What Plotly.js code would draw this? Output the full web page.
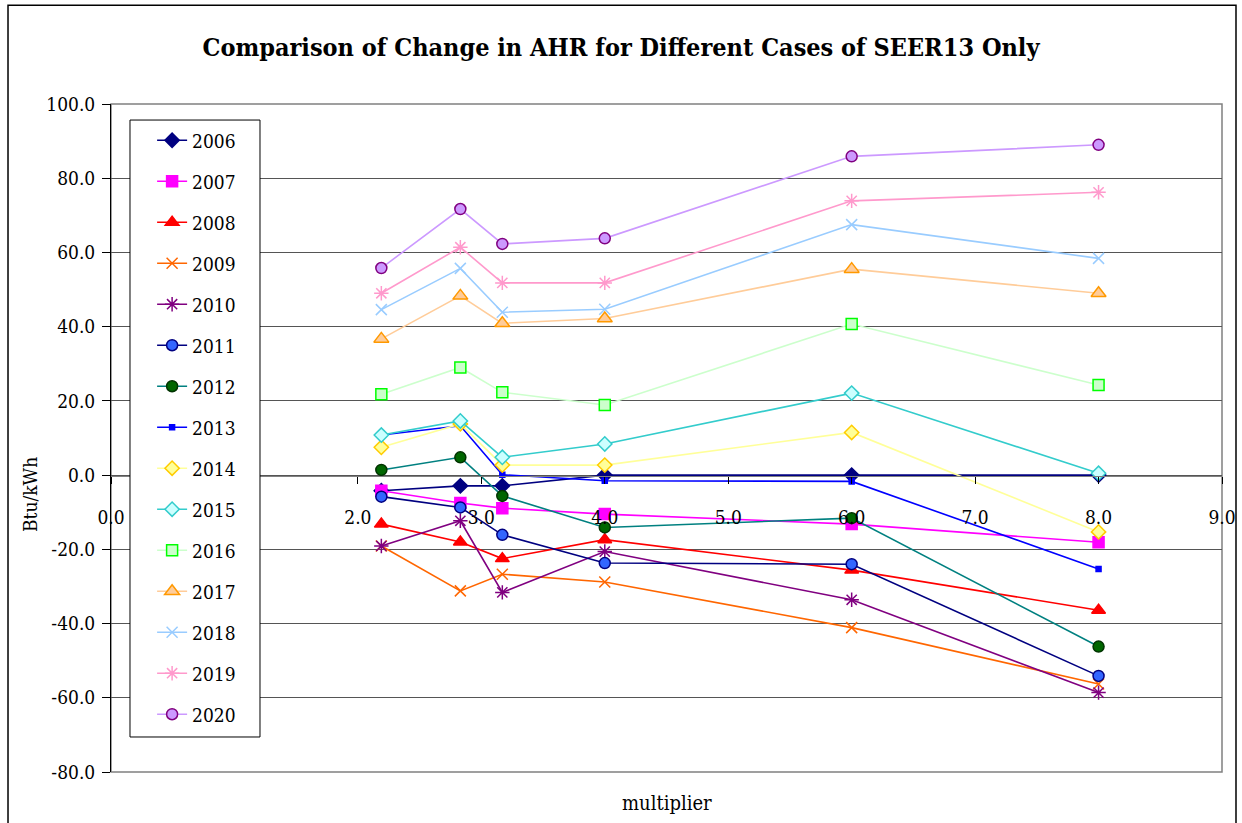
<!DOCTYPE html>
<html>
<head>
<meta charset="utf-8">
<script src="https://cdn.plot.ly/plotly-3.0.1.min.js"></script>
<style>
  html, body { margin: 0; padding: 0; background: #fff; }
  #chart { width: 1242px; height: 823px; }
</style>
</head>
<body>
<div id="chart"></div>
<script>
// Multiplier cases (x axis)
const multiplier = [2.19, 2.83, 3.17, 4.0, 6.0, 8.0];

// Change in AHR (Btu/kWh) per year
const y2006 = [-4.2, -2.9, -2.9, 0.0, 0.0, 0.0];
const y2007 = [-4.2, -7.5, -8.9, -10.5, -13.2, -18.1];
const y2008 = [-13.2, -18.0, -22.5, -17.4, -25.6, -36.4];
const y2009 = [-19.1, -31.2, -26.7, -28.8, -41.1, -56.3];
const y2010 = [-19.1, -12.3, -31.6, -20.6, -33.6, -58.6];
const y2011 = [-5.8, -8.7, -16.1, -23.7, -24.0, -54.1];
const y2012 = [1.4, 4.8, -5.6, -14.1, -11.6, -46.2];
const y2013 = [10.8, 13.3, 0.1, -1.5, -1.7, -25.3];
const y2014 = [7.5, 13.8, 2.7, 2.7, 11.5, -15.3];
const y2015 = [10.8, 14.6, 4.8, 8.4, 22.1, 0.5];
const y2016 = [21.8, 29.0, 22.3, 18.9, 40.7, 24.3];
const y2017 = [36.7, 48.3, 40.9, 42.2, 55.5, 49.0];
const y2018 = [44.6, 55.7, 43.9, 44.7, 67.5, 58.4];
const y2019 = [49.0, 61.4, 51.8, 51.8, 73.9, 76.2];
const y2020 = [55.8, 71.7, 62.3, 63.8, 85.9, 89.0];

const years = ['2006','2007','2008','2009','2010','2011','2012','2013',
               '2014','2015','2016','2017','2018','2019','2020'];
const values = [y2006, y2007, y2008, y2009, y2010, y2011, y2012, y2013,
                y2014, y2015, y2016, y2017, y2018, y2019, y2020];

// x tick positions and labels (the 1.0 label sits behind the legend box)
const xTickVals = [0, 1, 2, 3, 4, 5, 6, 7, 8, 9];
const xTickText = ['0.0', '', '2.0', '3.0', '4.0', '5.0', '6.0', '7.0', '8.0', '9.0'];

// y tick positions and labels (plain hyphen for negatives)
const yTickVals = [-80, -60, -40, -20, 0, 20, 40, 60, 80, 100];
const yTickText = ['-80.0', '-60.0', '-40.0', '-20.0', '0.0', '20.0', '40.0', '60.0', '80.0', '100.0'];

// Line colour, marker symbol, marker fill, marker outline, marker size
const styles = [
  ['#000080', 'diamond',       '#000080', '#000080', 11],
  ['#FF00FF', 'square',        '#FF00FF', '#FF00FF', 11],
  ['#FF0000', 'triangle-up',   '#FF0000', '#FF0000', 12],
  ['#FF6600', 'x-thin-open',   '#FF6600', '#FF6600', 11],
  ['#800080', 'asterisk-open', '#800080', '#800080', 12],
  ['#000080', 'circle',        '#3366FF', '#000080', 11],
  ['#008080', 'circle',        '#006600', '#003300', 11],
  ['#0000FF', 'square',        '#0000FF', '#0000FF', 5],
  ['#FFFF99', 'diamond',       '#FFFF99', '#FFCC00', 11],
  ['#33CCCC', 'diamond',       '#CCFFFF', '#33CCCC', 11],
  ['#CCFFCC', 'square',        '#CCFFCC', '#00FF00', 11],
  ['#FFCC99', 'triangle-up',   '#FFCC99', '#FF9900', 13],
  ['#99CCFF', 'x-thin-open',   '#99CCFF', '#99CCFF', 11],
  ['#FF99CC', 'asterisk-open', '#FF99CC', '#FF99CC', 12],
  ['#CC99FF', 'circle',        '#CC99FF', '#800080', 11]
];

const traces = years.map((yr, i) => {
  const [lc, sym, fill, outline, size] = styles[i];
  return {
    x: multiplier,
    y: values[i],
    name: yr,
    legendgroup: yr,
    type: 'scatter',
    mode: 'lines+markers',
    line: { color: lc, width: 1.6 },
    marker: {
      symbol: sym,
      size: size,
      color: fill,
      line: { color: outline, width: 1.5 }
    }
  };
});

const serif = 'DejaVu Serif Condensed, DejaVu Serif';

// Plot area in paper coords: x 0..1 spans 111..1222 px, y 0..1 spans 772..104 px
const layout = {
  width: 1242,
  height: 823,
  margin: { l: 111, r: 20, t: 104, b: 51 },
  paper_bgcolor: '#ffffff',
  plot_bgcolor: '#ffffff',
  font: { family: serif, size: 19, color: '#000' },
  showlegend: true,
  title: {
    text: '<b>Comparison of Change in AHR for Different Cases of SEER13 Only</b>',
    font: { family: serif, size: 25, color: '#000' },
    x: 0.5, xref: 'container', xanchor: 'center',
    y: 0.942, yref: 'container', yanchor: 'middle'
  },
  xaxis: {
    range: [0, 9],
    tickmode: 'array',
    tickvals: xTickVals,
    ticktext: xTickText,
    anchor: 'free',
    position: 0.4431,
    showline: true, linecolor: '#808080', linewidth: 1,
    ticks: 'outside', ticklen: 7, tickcolor: '#000', tickwidth: 1,
    ticklabelstandoff: 17,
    showgrid: false, zeroline: false,
    tickfont: { family: serif, size: 19, color: '#000' }
  },
  yaxis: {
    range: [-80, 100],
    tickmode: 'array',
    tickvals: yTickVals,
    ticktext: yTickText,
    showline: true, linecolor: '#000', linewidth: 1,
    ticks: 'outside', ticklen: 8, tickcolor: '#000', tickwidth: 1,
    showgrid: true, gridcolor: '#555', gridwidth: 1,
    zeroline: false,
    ticklabelstandoff: 3,
    tickfont: { family: serif, size: 19, color: '#000' }
  },
  legend: {
    x: 0.037, xanchor: 'left',
    y: 0.974, yanchor: 'top',
    bgcolor: 'rgba(0,0,0,0)',
    borderwidth: 0,
    tracegroupgap: 13.3,
    traceorder: 'grouped',
    font: { family: serif, size: 19, color: '#000' }
  },
  shapes: [
    // plot area frame
    { type: 'rect', xref: 'paper', yref: 'paper', x0: 0, x1: 1, y0: 0, y1: 1,
      line: { color: '#808080', width: 1.5 }, layer: 'below' },
    // legend box
    { type: 'rect', xref: 'paper', yref: 'paper',
      x0: 0.0171, x1: 0.1341, y0: 0.0524, y1: 0.976,
      fillcolor: '#ffffff', line: { color: '#000', width: 1 }, layer: 'above' },
    // chart border
    { type: 'rect', xref: 'paper', yref: 'paper',
      x0: -0.0927, x1: 1.0126, y0: -0.09, y1: 1.148,
      line: { color: '#000', width: 1.5 }, layer: 'above' }
  ],
  annotations: [
    { text: 'multiplier', xref: 'paper', yref: 'paper', x: 0.5004, y: -0.0464,
      xanchor: 'center', yanchor: 'middle', showarrow: false,
      font: { family: serif, size: 20, color: '#000' } },
    { text: 'Btu/kWh', xref: 'paper', yref: 'paper', x: -0.0729, y: 0.4147,
      xanchor: 'center', yanchor: 'middle', textangle: -90, showarrow: false,
      font: { family: serif, size: 19, color: '#000' } }
  ]
};

Plotly.newPlot('chart', traces, layout, { displayModeBar: false, staticPlot: true });
</script>
</body>
</html>
